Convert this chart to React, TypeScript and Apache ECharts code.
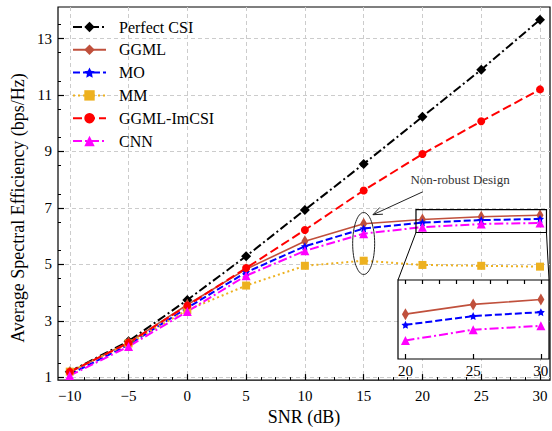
import React, { useEffect, useRef } from 'react';
import * as echarts from 'echarts';

const SNR = [-10, -5, 0, 5, 10, 15, 20, 25, 30];
const PERFECT_CSI = [1.2, 2.28, 3.74, 5.29, 6.93, 8.56, 10.23, 11.9, 13.67];
const GGML = [1.18, 2.23, 3.57, 4.83, 5.82, 6.44, 6.59, 6.69, 6.74];
const MO = [1.1, 2.15, 3.46, 4.72, 5.64, 6.27, 6.48, 6.57, 6.61];
const MM = [1.2, 2.2, 3.38, 4.25, 4.95, 5.13, 4.98, 4.95, 4.92];
const GGML_IMCSI = [1.19, 2.22, 3.54, 4.87, 6.22, 7.62, 8.91, 10.07, 11.2];
const CNN = [1.06, 2.09, 3.33, 4.6, 5.48, 6.09, 6.32, 6.43, 6.47];

const X_TICKS = [-10, -5, 0, 5, 10, 15, 20, 25, 30];
const Y_TICKS = [1, 3, 5, 7, 9, 11, 13];
const INSET_X_TICKS = [20, 25, 30];

const X_RANGE = [-11, 30.85];
const Y_RANGE = [0.9, 14.12];
const ZOOM_X = [19.45, 30.6];
const ZOOM_Y = [6.13, 6.94];

const FONT = '"Liberation Serif", "Times New Roman", serif';

const minorTicks = (start: number, end: number, step: number, majorStep: number) => {
  const out: number[] = [];
  for (let v = start; v <= end + 1e-9; v += step) {
    const r = Math.round(v * 1000) / 1000;
    if (Math.abs(r / majorStep - Math.round(r / majorStep)) > 1e-6) out.push(r);
  }
  return out;
};
const X_MINOR = minorTicks(-10, 30, 1.25, 5);
const Y_MINOR = minorTicks(1, 14, 0.5, 2).filter((v) => Math.abs((v - 1) / 2 - Math.round((v - 1) / 2)) > 1e-6);
const INSET_TOP_TICKS = (() => {
  const out: number[] = [];
  for (let v = 20; v <= 30 + 1e-9; v += 1.25) out.push(Math.round(v * 1000) / 1000);
  return out;
})();

const fmt = (v: number) => (v < 0 ? '\u2212' + Math.abs(v) : String(v));

const STAR = 'path://M0,-10 L2.9,-4 L9.5,-3.1 L4.7,1.5 L5.9,8.1 L0,5 L-5.9,8.1 L-4.7,1.5 L-9.5,-3.1 L-2.9,-4 Z';
const THIN_DIAMOND = 'path://M0,-10 L5,0 L0,10 L-5,0 Z';

const SERIES_DEFS = [
  { name: 'Perfect CSI', values: PERFECT_CSI, color: '#000000', symbol: 'diamond', size: 10, dash: [9, 3, 2, 3] as any, width: 2, inset: false },
  { name: 'GGML', values: GGML, color: '#C0503C', symbol: THIN_DIAMOND, size: [7, 12] as any, dash: 'solid' as any, width: 1.6, inset: true },
  { name: 'MO', values: MO, color: '#0000FF', symbol: STAR, size: 8, dash: [7, 3] as any, width: 2, inset: true },
  { name: 'MM', values: MM, color: '#EDB120', symbol: 'rect', size: 8, dash: [2, 3] as any, width: 2, inset: false },
  { name: 'GGML-ImCSI', values: GGML_IMCSI, color: '#FF0000', symbol: 'circle', size: 8, dash: [9, 4] as any, width: 2, inset: false },
  { name: 'CNN', values: CNN, color: '#FF00FF', symbol: 'triangle', size: 9, dash: [9, 3, 2, 3] as any, width: 2, inset: true },
];

const INSET = { left: 398, top: 280, width: 151, height: 79 };

export default function App() {
  const ref = useRef<HTMLDivElement>(null);
  useEffect(() => {
    document.body.style.margin = '0';
    if (!ref.current) return;
    const chart = echarts.init(ref.current, undefined, { renderer: 'svg' });

    const mkSeries = (d: any, inset: boolean) => ({
      type: 'line',
      name: d.name,
      xAxisIndex: inset ? 2 : 0,
      yAxisIndex: inset ? 2 : 0,
      data: SNR.map((x, i) => [x, d.values[i]]).filter((p) => !inset || p[0] >= 20),
      symbol: d.symbol,
      symbolSize: d.size,
      showSymbol: true,
      color: d.color,
      itemStyle: { color: d.color },
      lineStyle: { color: d.color, width: d.width, type: d.dash },
      z: inset ? 4 : 2,
      clip: true,
    });

    const series: any[] = [];
    SERIES_DEFS.forEach((d) => series.push(mkSeries(d, false)));
    SERIES_DEFS.filter((d) => d.inset).forEach((d) => series.push(mkSeries(d, true)));

    const tickLabel = { fontFamily: FONT, fontSize: 15, color: '#000' };

    chart.setOption({
      animation: false,
      backgroundColor: '#fff',
      textStyle: { fontFamily: FONT },
      grid: [
        { left: 58, top: 7, right: 2, bottom: 49, show: true, borderColor: '#000', borderWidth: 1.2, backgroundColor: 'transparent' },
        { left: INSET.left, top: INSET.top, width: INSET.width, height: INSET.height, show: false },
      ],
      legend: {
        orient: 'vertical',
        left: 72,
        top: 19,
        padding: 0,
        itemWidth: 33,
        itemHeight: 13,
        itemGap: 6.8,
        data: SERIES_DEFS.map((d) => d.name),
        textStyle: { fontFamily: FONT, fontSize: 16, color: '#000', lineHeight: 13, padding: [0, 0, 0, 8] },
      },
      xAxis: [
        {
          type: 'value', gridIndex: 0, position: 'bottom', min: X_RANGE[0], max: X_RANGE[1],
          name: 'SNR (dB)', nameLocation: 'middle', nameGap: 27,
          nameTextStyle: { fontFamily: FONT, fontSize: 18, color: '#000' },
          axisLine: { show: false, onZero: false },
          axisTick: { show: true, inside: true, length: 6, customValues: X_TICKS, lineStyle: { color: '#000', width: 1.2 } },
          axisLabel: { ...tickLabel, margin: 8, customValues: X_TICKS, formatter: fmt },
          splitLine: { show: true, lineStyle: { color: '#cccccc', type: [4, 3], width: 1 } },
        },
        {
          type: 'value', gridIndex: 0, position: 'bottom', min: X_RANGE[0], max: X_RANGE[1],
          axisLine: { show: false, onZero: false },
          axisTick: { show: true, inside: true, length: 3, customValues: X_MINOR, lineStyle: { color: '#000', width: 1 } },
          axisLabel: { show: false },
          splitLine: { show: false },
        },
        {
          type: 'value', gridIndex: 1, position: 'bottom', min: ZOOM_X[0], max: ZOOM_X[1], z: 6,
          axisLine: { show: false, onZero: false },
          axisTick: { show: true, inside: true, length: 5, customValues: INSET_X_TICKS, lineStyle: { color: '#000', width: 1.2 } },
          axisLabel: { ...tickLabel, margin: 4, customValues: INSET_X_TICKS },
          splitLine: { show: false },
        },
        {
          type: 'value', gridIndex: 1, position: 'top', min: ZOOM_X[0], max: ZOOM_X[1], z: 6,
          axisLine: { show: false, onZero: false },
          axisTick: { show: true, inside: true, length: 4, customValues: INSET_TOP_TICKS, lineStyle: { color: '#000', width: 1.2 } },
          axisLabel: { show: false },
          splitLine: { show: false },
        },
      ],
      yAxis: [
        {
          type: 'value', gridIndex: 0, position: 'left', min: Y_RANGE[0], max: Y_RANGE[1],
          axisLine: { show: false, onZero: false },
          axisTick: { show: true, inside: true, length: 6, customValues: Y_TICKS, lineStyle: { color: '#000', width: 1.2 } },
          axisLabel: { ...tickLabel, margin: 6, customValues: Y_TICKS },
          splitLine: { show: true, lineStyle: { color: '#cccccc', type: [4, 3], width: 1 } },
        },
        {
          type: 'value', gridIndex: 0, position: 'left', min: Y_RANGE[0], max: Y_RANGE[1],
          axisLine: { show: false, onZero: false },
          axisTick: { show: true, inside: true, length: 3, customValues: Y_MINOR, lineStyle: { color: '#000', width: 1 } },
          axisLabel: { show: false },
          splitLine: { show: false },
        },
        {
          type: 'value', gridIndex: 1, position: 'left', min: ZOOM_Y[0], max: ZOOM_Y[1],
          axisLine: { show: false, onZero: false },
          axisTick: { show: false },
          axisLabel: { show: false },
          splitLine: { show: false },
        },
      ],
      series,
    });

    const px = (x: number, y: number) => chart.convertToPixel({ gridIndex: 0 } as any, [x, y]) as number[];
    const zA = px(ZOOM_X[0], ZOOM_Y[1]);
    const zB = px(ZOOM_X[1] - 0.05, ZOOM_Y[0]);
    const ell = px(15, 5.74);
    const tail = px(20.02, 7.57);
    const tip = px(15.79, 6.76);
    const txt = px(23.2, 8.0);
    const ang = Math.atan2(tail[1] - tip[1], tail[0] - tip[0]);
    const hl = 10, spread = 0.38;
    const head1 = [tip[0] + hl * Math.cos(ang + spread), tip[1] + hl * Math.sin(ang + spread)];
    const head2 = [tip[0] + hl * Math.cos(ang - spread), tip[1] + hl * Math.sin(ang - spread)];
    const annStroke = { stroke: '#222', lineWidth: 1, fill: null };

    chart.setOption({
      graphic: [
        { type: 'rect', z: 1, shape: { x: INSET.left, y: INSET.top, width: INSET.width, height: INSET.height }, style: { fill: '#fff', stroke: '#000', lineWidth: 1.2 } },
        { type: 'rect', z: 5, shape: { x: zA[0], y: zA[1], width: zB[0] - zA[0], height: zB[1] - zA[1] }, style: { fill: null, stroke: '#000', lineWidth: 1.2 } },
        { type: 'line', z: 5, shape: { x1: zA[0], y1: zB[1], x2: INSET.left, y2: INSET.top }, style: { stroke: '#000', lineWidth: 1 } },
        { type: 'line', z: 5, shape: { x1: zB[0], y1: zB[1], x2: INSET.left + INSET.width, y2: INSET.top }, style: { stroke: '#000', lineWidth: 1 } },
        { type: 'ellipse', z: 5, shape: { cx: ell[0], cy: ell[1], rx: 11, ry: 31 }, style: annStroke },
        { type: 'line', z: 5, shape: { x1: tail[0], y1: tail[1], x2: tip[0], y2: tip[1] }, style: annStroke },
        { type: 'polyline', z: 5, shape: { points: [head1, tip, head2] }, style: annStroke },
        { type: 'text', z: 5, x: txt[0], y: txt[1], style: { text: 'Non-robust Design', font: '13px "Liberation Serif"', fill: '#333', align: 'center', verticalAlign: 'middle' } },
        { type: 'text', z: 5, x: 18, y: 208, rotation: Math.PI / 2, style: { text: 'Average Spectral Efficiency (bps/Hz)', font: '18px "Liberation Serif"', fill: '#000', align: 'center', verticalAlign: 'middle' } },
      ],
    });

    return () => chart.dispose();
  }, []);
  return <div ref={ref} style={{ width: 552, height: 431 }} />;
}
